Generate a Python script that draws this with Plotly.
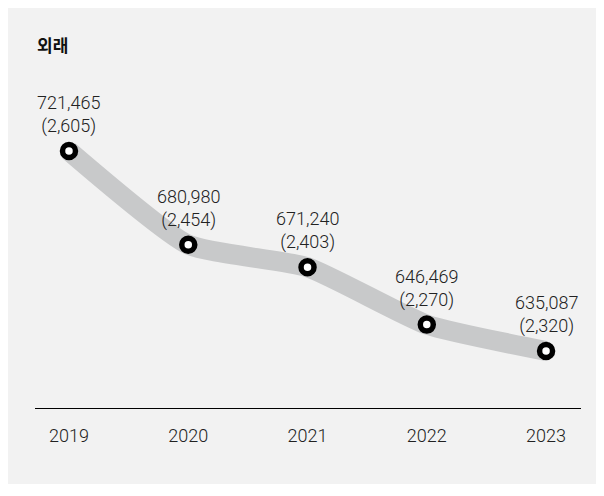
import plotly.graph_objects as go

years = ["2019", "2020", "2021", "2022", "2023"]
visits = [721465, 680980, 671240, 646469, 635087]
daily = [2605, 2454, 2403, 2270, 2320]
title_text = "외래"

W, H = 604, 496
L, R, T, B = 27, 31, 52, 96
pw, ph = W - L - R, H - T - B

xs = list(range(len(years)))
KFONT = "Noto Sans CJK KR"
NFONT = "Roboto, Noto Sans CJK KR"

fig = go.Figure()
fig.add_trace(go.Scatter(
    x=xs, y=visits, mode="lines",
    line=dict(color="#c8c9ca", width=20, shape="spline", smoothing=0.5),
    hoverinfo="skip"))
fig.add_trace(go.Scatter(
    x=xs, y=visits, mode="markers",
    marker=dict(size=13, color="white", line=dict(color="black", width=5.5)),
    hoverinfo="skip"))

for i in xs:
    fig.add_annotation(x=i, y=visits[i], text=f"{visits[i]:,}<br>({daily[i]:,})",
                       showarrow=False, yanchor="bottom", yshift=12,
                       font=dict(family=NFONT, size=18, color="#222222", weight=300))

fig.add_shape(type="rect", xref="paper", yref="paper",
              x0=(0 - L) / pw, x1=(W - L) / pw,
              y0=(H - B - 476) / ph, y1=(H - B - 0) / ph,
              fillcolor="#f2f2f2", line=dict(width=0), layer="below")

fig.add_annotation(xref="paper", yref="paper", x=0, y=(H - B - 36) / ph,
                   text=f"<b>{title_text}</b>", showarrow=False,
                   xanchor="left", yanchor="middle",
                   font=dict(family=KFONT, size=17, color="#111111"))

fig.update_layout(
    width=W, height=H, margin=dict(l=L, r=R, t=T, b=B),
    paper_bgcolor="white", plot_bgcolor="rgba(0,0,0,0)",
    showlegend=False,
    xaxis=dict(range=[-0.285, 4.293], tickmode="array", tickvals=xs, ticktext=years,
               showgrid=False, zeroline=False, showline=True, linecolor="black",
               linewidth=1.2, ticks="", ticklabelstandoff=11,
               tickfont=dict(family=NFONT, size=18, color="#222222", weight=300)),
    yaxis=dict(range=[610450, 760774], visible=False, showgrid=False, zeroline=False),
)

fig.write_html("out.html")
